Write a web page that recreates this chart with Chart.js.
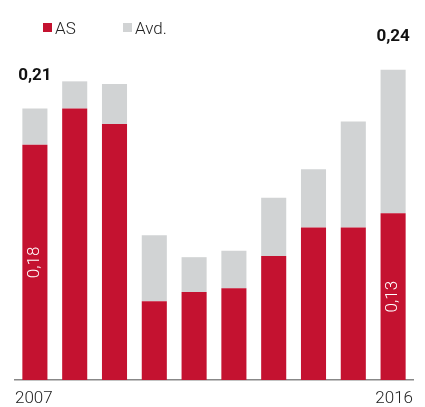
<!DOCTYPE html>
<html>
<head>
<meta charset="utf-8">
<script src="https://cdn.jsdelivr.net/npm/chart.js@4/dist/chart.umd.min.js"></script>
<style>
  html, body { margin: 0; padding: 0; background: #fff; }
  #wrap { position: relative; width: 425px; height: 407px; }
  .legend { position: absolute; top: 18px; font: 300 17px Roboto, "Liberation Sans", sans-serif; color: #222; }
  .legend span.box { display: inline-block; width: 9px; height: 9px; margin-right: 3px; vertical-align: 2px; }
</style>
</head>
<body>
<div id="wrap">
  <canvas id="chart" width="425" height="407"></canvas>
  <div class="legend" style="left:43px"><span class="box" style="background:#c41230"></span>AS</div>
  <div class="legend" style="left:123px"><span class="box" style="background:#d1d3d4"></span>Avd.</div>
</div>
<script>
// Data
const years = ['2007', '2008', '2009', '2010', '2011', '2012', '2013', '2014', '2015', '2016'];
const asValues = [0.182, 0.210, 0.198, 0.061, 0.068, 0.071, 0.096, 0.118, 0.118, 0.129];
const avdValues = [0.028, 0.021, 0.031, 0.051, 0.027, 0.029, 0.045, 0.045, 0.082, 0.111];
const totalLabels = ['0,21', '', '', '', '', '', '', '', '', '0,24'];
const insideLabels = ['0,18', '', '', '', '', '', '', '', '', '0,13'];

const RED = '#c41230';
const GREY = '#d1d3d4';
const FONT = 'Roboto, "Liberation Sans", sans-serif';

// Draws the bold totals, rotated values inside red bars and the end year labels
const labelPlugin = {
    id: 'barLabels',
    afterDatasetsDraw(chart) {
        const c = chart.ctx;
        const area = chart.chartArea;
        const redMeta = chart.getDatasetMeta(0);
        const greyMeta = chart.getDatasetMeta(1);
        c.save();
        c.textBaseline = 'middle';
        redMeta.data.forEach((bar, i) => {
            if (insideLabels[i]) {
                c.save();
                c.translate(bar.x, (bar.y + bar.base) / 2);
                c.rotate(-Math.PI / 2);
                c.fillStyle = '#fff';
                c.font = '300 17px ' + FONT;
                c.textAlign = 'center';
                c.fillText(insideLabels[i], 0, 0);
                c.restore();
            }
            if (totalLabels[i]) {
                const top = greyMeta.data[i].y;
                c.fillStyle = '#111';
                c.font = 'bold 17px ' + FONT;
                c.textAlign = 'center';
                c.fillText(totalLabels[i], bar.x, top - 33);
            }
        });
        // first and last year under the axis, flush with its ends
        c.fillStyle = '#222';
        c.font = '300 17px ' + FONT;
        c.textAlign = 'left';
        c.fillText(years[0], area.left, area.bottom + 19);
        c.textAlign = 'right';
        c.fillText(years[years.length - 1], area.right, area.bottom + 19);
        c.restore();
    }
};

new Chart(document.getElementById('chart'), {
    type: 'bar',
    data: {
        labels: years,
        datasets: [
            { label: 'AS', data: asValues, backgroundColor: RED },
            { label: 'Avd.', data: avdValues, backgroundColor: GREY }
        ]
    },
    options: {
        responsive: false,
        animation: false,
        layout: { padding: { top: 18, left: 15, right: 12, bottom: 19 } },
        datasets: { bar: { categoryPercentage: 1, barPercentage: 0.63 } },
        plugins: { legend: { display: false }, tooltip: { enabled: false } },
        scales: {
            x: {
                stacked: true,
                grid: { display: false },
                border: { display: true, color: '#888', width: 1.5 },
                ticks: { display: false }
            },
            y: { stacked: true, display: false, min: 0, max: 0.28 }
        }
    },
    plugins: [labelPlugin]
});
</script>
</body>
</html>
